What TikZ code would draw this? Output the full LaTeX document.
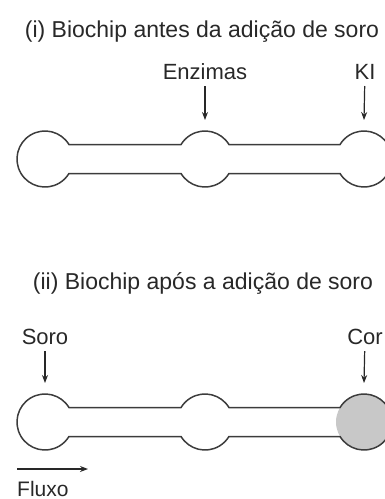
\documentclass[tikz,border=0pt]{standalone}
\usepackage{fontspec}
\setmainfont{Liberation Sans}
\usepackage{tikz}
\usetikzlibrary{arrows.meta,positioning,calc}
\usepackage{xcolor}
\definecolor{inkgray}{RGB}{40,40,40}
\definecolor{linegray}{RGB}{60,60,60}
\definecolor{wellgray}{RGB}{200,200,200}
\newcommand{\wellr}{28}
\newcommand{\wella}{31.2}

\begin{document}
\begin{tikzpicture}[
        x=1pt, y=1pt,
        title/.style={inner sep=0pt, anchor=base, text=inkgray, font=\fontsize{23}{27}\selectfont},
        tag/.style={inner sep=0pt, outer ysep=7pt, anchor=base, text=inkgray, font=\fontsize{22}{26}\selectfont},
        chip/.style={draw=linegray, line width=1.5pt},
        arrow/.style={-{Stealth[length=8pt,width=6pt]}, line width=1.2pt, inkgray}
    ]
    \useasboundingbox (0,0) rectangle (385,-499);
    \clip (0,0) rectangle (385,-499);
    % (i) before serum
    \node[title] (ti) at (202,-37) {(i) Biochip antes da adição de soro};
    \coordinate (L1) at (45,-159);
    \coordinate (M1) at (205,-159);
    \coordinate (R1) at (364,-159);
    \draw[chip] ([shift={(\wella:\wellr)}]L1) arc[start angle=\wella, end angle=360-\wella, radius=\wellr]
        -- ([shift={(180+\wella:\wellr)}]M1) arc[start angle=180+\wella, end angle=360-\wella, radius=\wellr]
        -- ([shift={(180+\wella:\wellr)}]R1) arc[start angle=180+\wella, end angle=540-\wella, radius=\wellr]
        -- ([shift={(\wella:\wellr)}]M1) arc[start angle=\wella, end angle=180-\wella, radius=\wellr]
        -- cycle;
    \node[tag] (enz) at (205,-79) {Enzimas};
    \node[tag] (ki) at (365,-79) {KI};
    \coordinate (enzT) at (205,-120);
    \coordinate (kiT) at (364,-120);
    \draw[arrow] (enz) -- (enzT);
    \draw[arrow] (ki) -- (kiT);
    % (ii) after serum
    \node[title] (tii) at (203,-289) {(ii) Biochip após a adição de soro};
    \coordinate (L2) at (45,-422);
    \coordinate (M2) at (205,-422);
    \coordinate (R2) at (364,-422);
    \fill[wellgray] (R2) circle[radius=\wellr];
    \draw[chip] ([shift={(\wella:\wellr)}]L2) arc[start angle=\wella, end angle=360-\wella, radius=\wellr]
        -- ([shift={(180+\wella:\wellr)}]M2) arc[start angle=180+\wella, end angle=360-\wella, radius=\wellr]
        -- ([shift={(180+\wella:\wellr)}]R2) arc[start angle=180+\wella, end angle=540-\wella, radius=\wellr]
        -- ([shift={(\wella:\wellr)}]M2) arc[start angle=\wella, end angle=180-\wella, radius=\wellr]
        -- cycle;
    \node[tag] (soro) at (45,-344) {Soro};
    \node[tag] (cor) at (365,-344) {Cor};
    \coordinate (soroT) at (45,-383);
    \coordinate (corT) at (364,-383);
    \draw[arrow] (soro) -- (soroT);
    \draw[arrow] (cor) -- (corT);
    % flow direction
    \coordinate (fluxA) at (17,-469);
    \coordinate (fluxB) at (88,-469);
    \draw[arrow] (fluxA) -- (fluxB);
    \node[tag, anchor=base west, font=\fontsize{21}{25}\selectfont] (flux) at (17,-496) {Fluxo};
\end{tikzpicture}
\end{document}
